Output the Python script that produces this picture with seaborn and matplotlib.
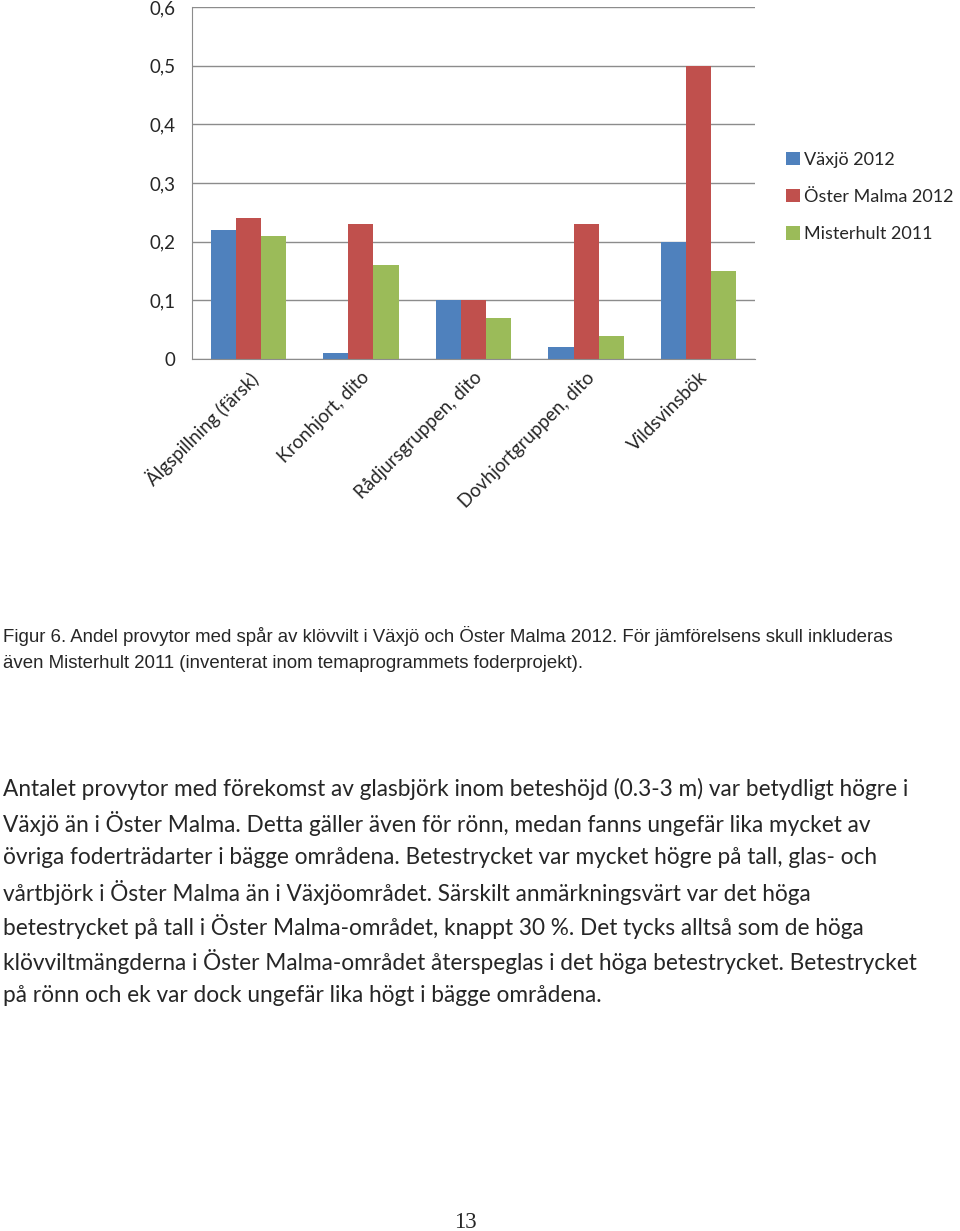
import matplotlib
matplotlib.use("Agg")
import matplotlib.pyplot as plt
import seaborn as sns
import pandas as pd
import numpy as np
from matplotlib.ticker import FixedLocator, FuncFormatter

categories = ["Älgspillning (färsk)", "Kronhjort, dito", "Rådjursgruppen, dito",
              "Dovhjortgruppen, dito", "Vildsvinsbök"]
series = ["Växjö 2012", "Öster Malma 2012", "Misterhult 2011"]
vaxjo = [0.22, 0.01, 0.10, 0.02, 0.20]
oster_malma = [0.24, 0.23, 0.10, 0.23, 0.50]
misterhult = [0.21, 0.16, 0.07, 0.04, 0.15]
colors = ["#4F81BD", "#C0504D", "#9BBB59"]
yticks = [0, 0.1, 0.2, 0.3, 0.4, 0.5, 0.6]

caption = ("Figur 6. Andel provytor med spår av klövvilt i Växjö och Öster Malma 2012. För jämförelsens skull inkluderas\n"
           "även Misterhult 2011 (inventerat inom temaprogrammets foderprojekt).")
paragraph = [
    "Antalet provytor med förekomst av glasbjörk inom beteshöjd (0.3-3 m) var betydligt högre i",
    "Växjö än i Öster Malma. Detta gäller även för rönn, medan fanns ungefär lika mycket av",
    "övriga foderträdarter i bägge områdena. Betestrycket var mycket högre på tall, glas- och",
    "vårtbjörk i Öster Malma än i Växjöområdet. Särskilt anmärkningsvärt var det höga",
    "betestrycket på tall i Öster Malma-området, knappt 30 %. Det tycks alltså som de höga",
    "klövviltmängderna i Öster Malma-området återspeglas i det höga betestrycket. Betestrycket",
    "på rönn och ek var dock ungefär lika högt i bägge områdena.",
]
page_number = "13"

df = pd.DataFrame({
    "cat": categories * 3,
    "series": [series[0]] * 5 + [series[1]] * 5 + [series[2]] * 5,
    "value": vaxjo + oster_malma + misterhult,
})

sns.set_style("white")
plt.rcParams["font.family"] = ["Lato", "DejaVu Sans"]

W, H = 960, 1231
fig = plt.figure(figsize=(W / 100, H / 100), dpi=100)
ax = fig.add_axes([192 / W, 1 - 359 / H, (755 - 192) / W, (359 - 7) / H])

sns.barplot(data=df, x="cat", y="value", hue="series", palette=colors,
            width=0.67, saturation=1, linewidth=0, ax=ax, errorbar=None)

ax.set_ylim(0, 0.6)
ax.set_xlim(-0.5, 4.5)
ax.set_yticks(yticks)
ax.yaxis.set_major_formatter(FuncFormatter(lambda v, p: ("%g" % round(v, 1)).replace(".", ",")))
ax.yaxis.grid(True, color="#8c8c8c", linewidth=1)
ax.set_axisbelow(True)
ax.set_xlabel("")
ax.set_ylabel("")
for s in ["top", "right"]:
    ax.spines[s].set_visible(False)
ax.spines["left"].set_color("#8c8c8c")
ax.spines["bottom"].set_color("#8c8c8c")
ax.tick_params(axis="y", length=0, labelsize=13.5, pad=12)
ax.tick_params(axis="x", which="major", length=0, labelsize=13.5, pad=7)
ax.xaxis.set_minor_locator(FixedLocator(np.arange(-0.5, 5, 1)))
ax.tick_params(axis="x", which="minor", length=6, color="#8c8c8c", width=1)
ax.set_xticks(range(len(categories)))
ax.set_xticklabels(categories, rotation=45, ha="right", va="top", rotation_mode="anchor")

handles, labels = ax.get_legend_handles_labels()
ax.legend(handles, labels, loc="upper left", bbox_to_anchor=(786 / W, 1 - 152 / H),
          bbox_transform=fig.transFigure, frameon=False, fontsize=13.0,
          handlelength=0.75, handleheight=0.75, handletextpad=0.25, labelspacing=1.17,
          borderaxespad=0, borderpad=0)

fig.text(3 / W, 1 - 636 / H, caption.split("\n")[0], fontsize=13.4, family="Liberation Sans",
         va="center", ha="left")
fig.text(3 / W, 1 - 664 / H, caption.split("\n")[1], fontsize=13.4, family="Liberation Sans",
         va="center", ha="left")

for i, line in enumerate(paragraph):
    y = 789 + i * 34.4
    fig.text(3 / W, 1 - y / H, line, fontsize=16.3, va="center", ha="left")

fig.text(465 / W, 1 - 1222 / H, page_number, fontsize=16.5, family="Liberation Serif",
         va="center", ha="center")

fig.savefig("out.png", dpi=100, facecolor="white")
